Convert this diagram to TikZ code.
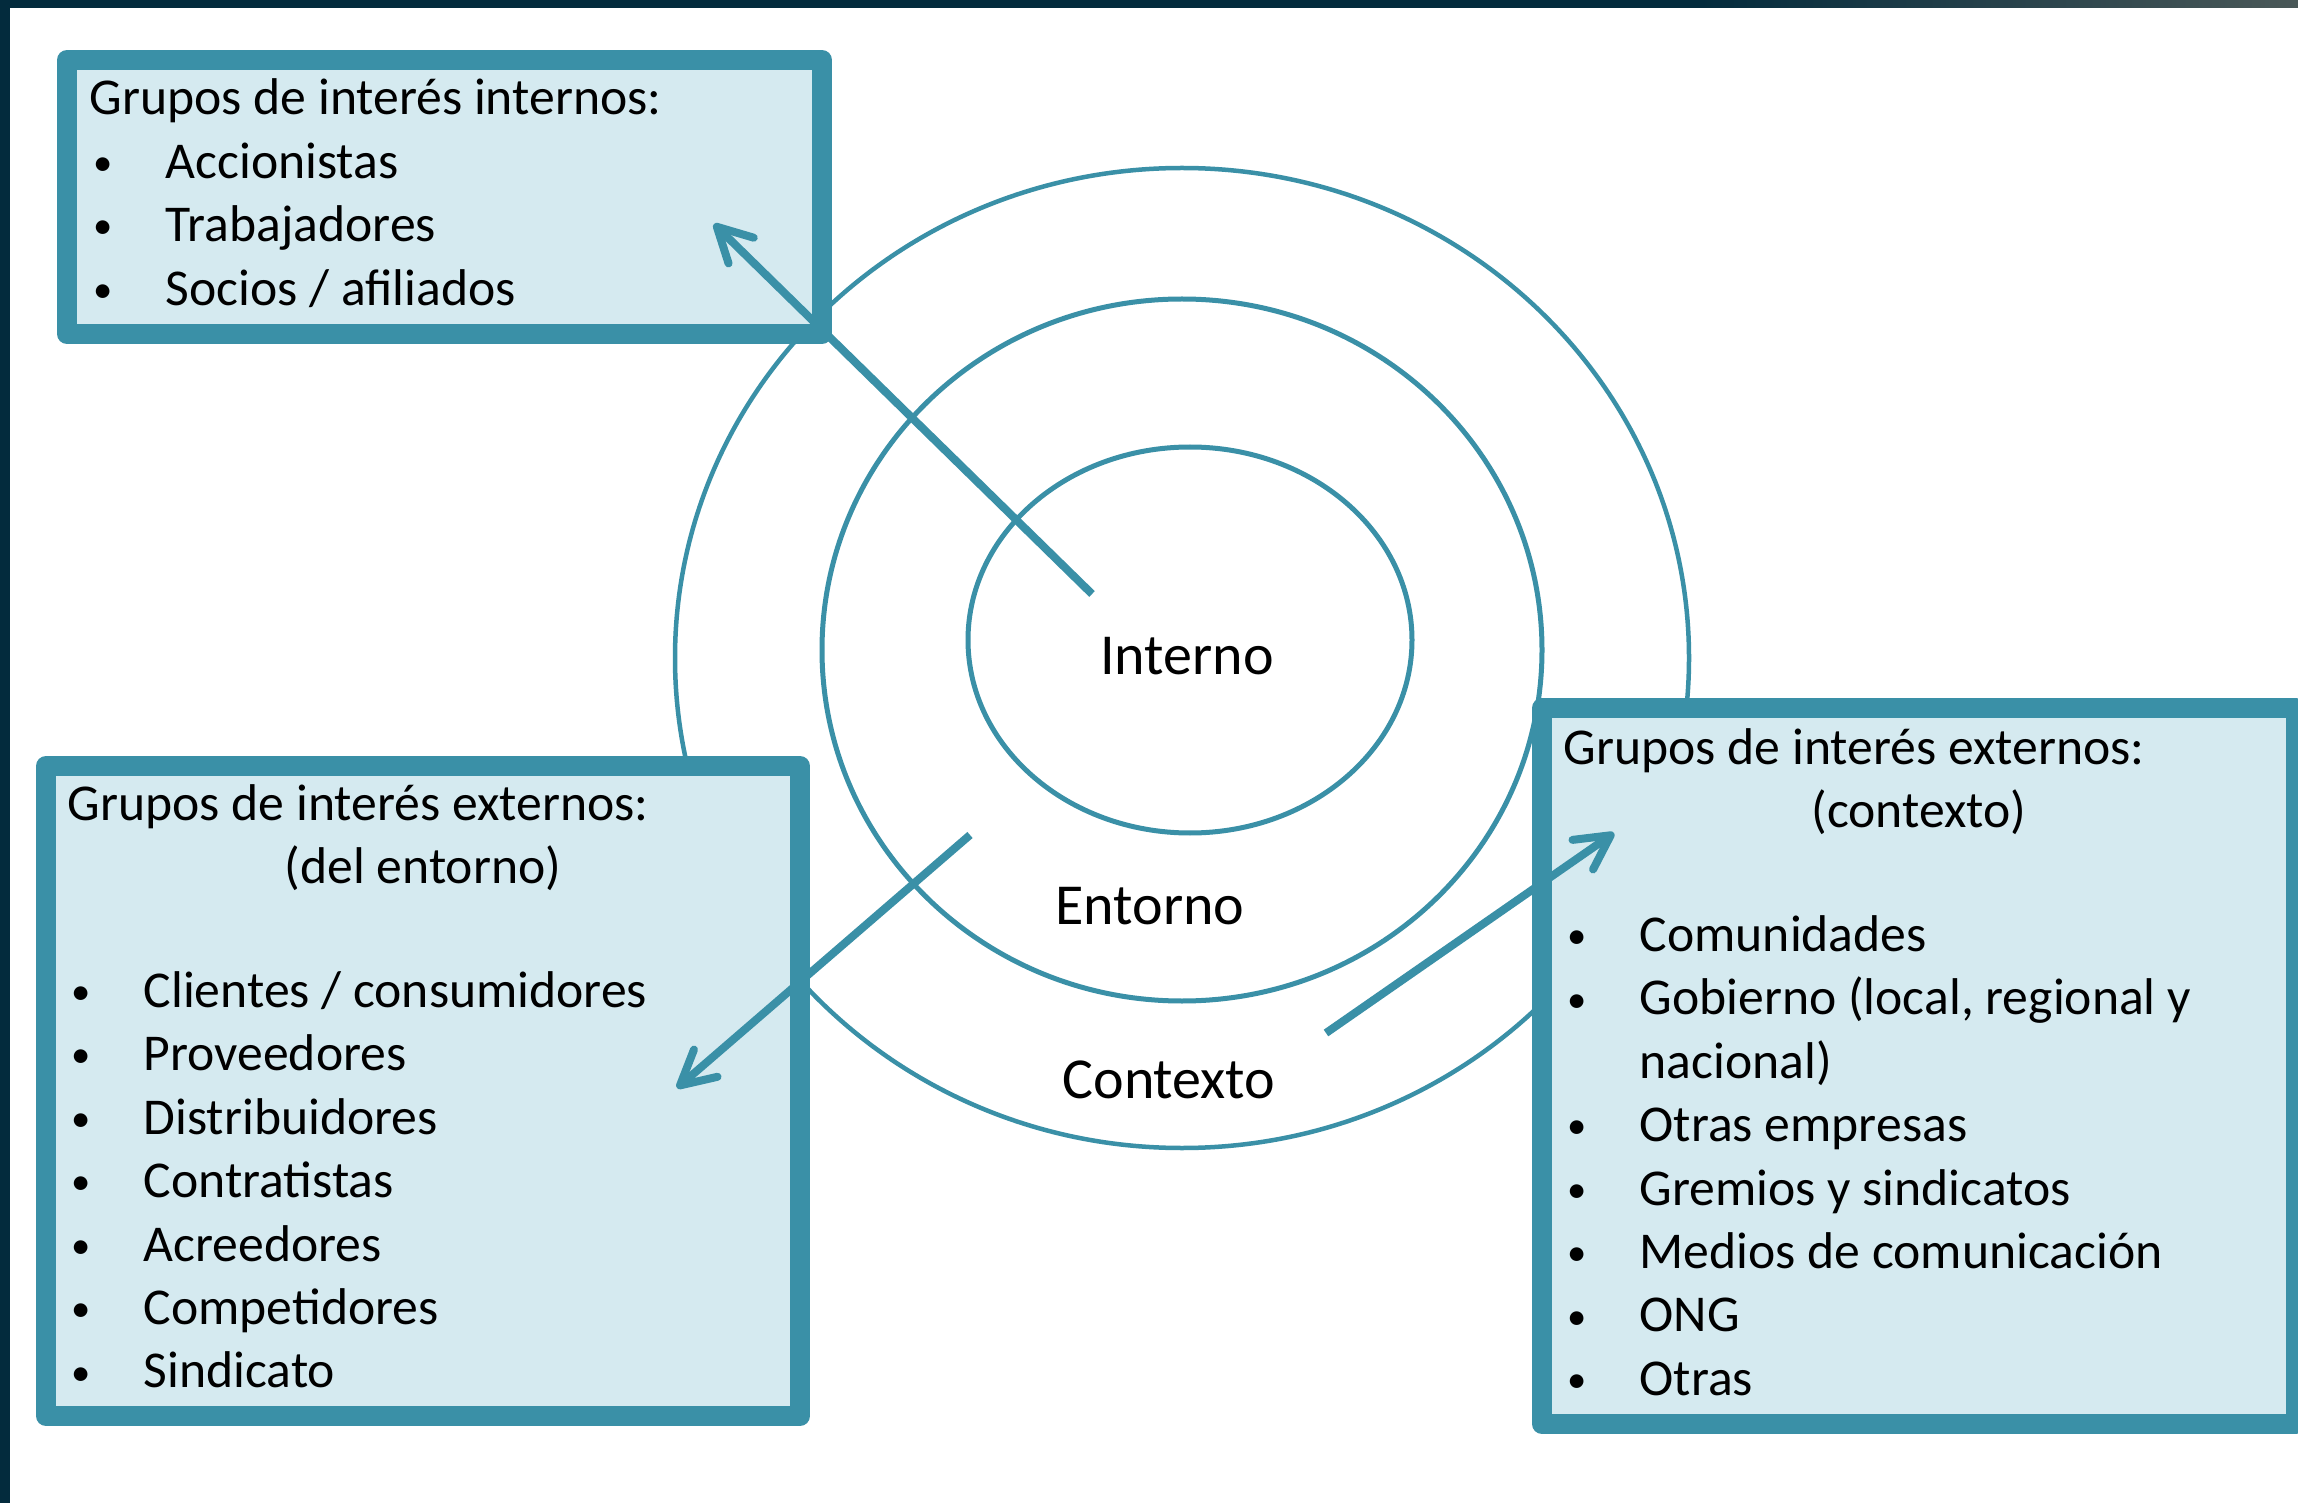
\documentclass[tikz,border=0pt]{standalone}
\usepackage{fontspec}
\setmainfont{Carlito}
\usepackage{xcolor}
\usepackage{tikz}
\usetikzlibrary{arrows.meta, positioning}
\definecolor{framecolor}{HTML}{3A90A7}
\definecolor{boxfill}{HTML}{D5EAF0}
\definecolor{darkstrip}{HTML}{032B3D}
\definecolor{greystrip}{HTML}{4A5858}
\newcommand{\grupoitem}[1]{\makebox[7.6mm][l]{\hspace{0.4mm}\raisebox{0.8pt}{\fontsize{11}{11}\selectfont •}}#1}

\begin{document}
\begin{tikzpicture}[x=0.1mm, y=-0.1mm, every node/.style={inner sep=0pt, font=\fontsize{14.7}{17.6}\selectfont}]
        \def\deltay{0.4mm}
        \def\skipy{12.8mm}
        \tikzset{
            groupbox/.style={draw=framecolor, fill=boxfill, line width=2mm, line join=round},
            ring/.style={draw=framecolor, line width=0.5mm},
            textline/.style={text height=4.2mm, text depth=1.6mm},
            linkarrow/.style={draw=framecolor, line width=0.8mm, -{Straight Barb[length=3.4mm, width=3.6mm, round]}},
            ringlabel/.style={font=\fontsize{16.5}{19}\selectfont, anchor=base}
        }
        \useasboundingbox (0,0) rectangle (2298,1503);
        % page background and dark frame
        \fill[white] (0,0) rectangle (2298,1503);
        \fill[darkstrip] (0,0) rectangle (10,1503);
        \fill[darkstrip] (0,0) rectangle (1700,8);
        \shade[left color=darkstrip, right color=greystrip] (1700,0) rectangle (2298,8);
        % rings
        \draw[ring, line width=0.45mm] (1182,658) ellipse [x radius=507, y radius=490];
        \draw[ring] (1182,650) ellipse [x radius=360, y radius=351];
        \draw[ring] (1190,640) ellipse [x radius=222, y radius=193];
        \node[ringlabel] (interno) at (1187,675) {Interno};
        \node[ringlabel] (entorno) at (1150,924) {Entorno};
        \node[ringlabel] (contexto) at (1169,1098) {Contexto};
        % boxes
        \node[groupbox, minimum width=75.5mm, minimum height=27.4mm] (ibox) at (444.5,197) {};
        \node[groupbox, minimum width=75.4mm, minimum height=65mm] (ebox) at (423,1091) {};
        \node[groupbox, minimum width=75.4mm, minimum height=71.6mm] (cbox) at (1919,1066) {};
        % internos
        \begin{scope}[every node/.append style={textline}]
            \node[anchor=base west] (ititle) at (89,115) {Grupos de interés internos:};
            \node[below right=\deltay and 0mm of ititle.south west] (i1) {\grupoitem{Accionistas}};
            \node[below right=\deltay and 0mm of i1.south west] (i2) {\grupoitem{Trabajadores}};
            \node[below right=\deltay and 0mm of i2.south west] (i3) {\grupoitem{Socios / afiliados}};
        \end{scope}
        % externos (del entorno)
        \begin{scope}[every node/.append style={textline}]
            \node[anchor=base west] (etitle) at (67,820) {Grupos de interés externos:};
            \coordinate (esubpos) at (ebox.center |- etitle.south);
            \node[below=\deltay of esubpos] (esub) {(del entorno)};
            \node[below right=\skipy and 0mm of etitle.south west] (e1) {\grupoitem{Clientes / consumidores}};
            \node[below right=\deltay and 0mm of e1.south west] (e2) {\grupoitem{Proveedores}};
            \node[below right=\deltay and 0mm of e2.south west] (e3) {\grupoitem{Distribuidores}};
            \node[below right=\deltay and 0mm of e3.south west] (e4) {\grupoitem{Contratistas}};
            \node[below right=\deltay and 0mm of e4.south west] (e5) {\grupoitem{Acreedores}};
            \node[below right=\deltay and 0mm of e5.south west] (e6) {\grupoitem{Competidores}};
            \node[below right=\deltay and 0mm of e6.south west] (e7) {\grupoitem{Sindicato}};
        \end{scope}
        % externos (contexto)
        \begin{scope}[every node/.append style={textline}]
            \node[anchor=base west] (ctitle) at (1563,764) {Grupos de interés externos:};
            \coordinate (csubpos) at (cbox.center |- ctitle.south);
            \node[below=\deltay of csubpos] (csub) {(contexto)};
            \node[below right=\skipy and 0mm of ctitle.south west] (c1) {\grupoitem{Comunidades}};
            \node[below right=\deltay and 0mm of c1.south west] (c2) {\grupoitem{Gobierno (local, regional y}};
            \node[below right=\deltay and 0mm of c2.south west] (c2b) {\hspace*{7.6mm}nacional)};
            \node[below right=\deltay and 0mm of c2b.south west] (c3) {\grupoitem{Otras empresas}};
            \node[below right=\deltay and 0mm of c3.south west] (c4) {\grupoitem{Gremios y sindicatos}};
            \node[below right=\deltay and 0mm of c4.south west] (c5) {\grupoitem{Medios de comunicación}};
            \node[below right=\deltay and 0mm of c5.south west] (c6) {\grupoitem{ONG}};
            \node[below right=\deltay and 0mm of c6.south west] (c7) {\grupoitem{Otras}};
        \end{scope}
        % arrows out of the rings
        \coordinate (intfrom) at (1092,594);
        \coordinate (intto) at (714,224);
        \coordinate (entfrom) at (970,835);
        \coordinate (entto) at (677,1088);
        \coordinate (ctxfrom) at (1326,1033);
        \coordinate (ctxto) at (1614,833);
        \draw[linkarrow] (intfrom) -- (intto);
        \draw[linkarrow] (entfrom) -- (entto);
        \draw[linkarrow] (ctxfrom) -- (ctxto);
    \end{tikzpicture}
\end{document}
